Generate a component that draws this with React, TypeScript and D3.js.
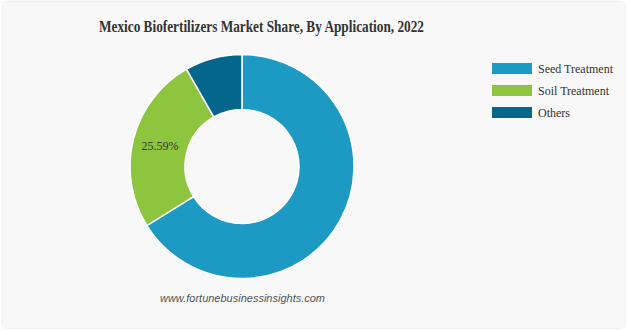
import React from "react";
import * as d3 from "d3";

const categories = ["Seed Treatment", "Soil Treatment", "Others"];
const values = [66.16, 25.59, 8.25];
const colors = ["#1c9ac3", "#8dc53f", "#05668c"];
const labeledIndex = [1];

const W = 629;
const H = 332;

export default function App() {
  const cx = 242;
  const cy = 166.5;
  const outerR = 112;
  const innerR = 57;

  const pie = d3
    .pie<number>()
    .sort(null)
    .value((d) => d)
    .startAngle(0)
    .endAngle(2 * Math.PI);
  const arcs = pie(values);
  const arcGen = d3.arc<d3.PieArcDatum<number>>().innerRadius(innerR).outerRadius(outerR);

  const legendX = 492;
  const legendY = 63;
  const legendStep = 22;

  return (
    <svg
      width={W}
      height={H}
      style={{ position: "absolute", left: 0, top: 0, display: "block" }}
    >
      <defs>
        <filter id="sh" x="-5%" y="-5%" width="110%" height="110%">
          <feDropShadow dx="0" dy="0" stdDeviation="1.2" floodColor="#000" floodOpacity="0.18" />
        </filter>
      </defs>
      <rect x={0} y={0} width={W} height={H} fill="#ffffff" />
      <rect x={3} y={2} width={621} height={326} rx={4} fill="#f8f8f8" filter="url(#sh)" />
      <text
        x={261.5}
        y={31.5}
        textAnchor="middle"
        fontFamily="'Liberation Serif', 'Times New Roman', serif"
        fontWeight="bold"
        fontSize={17}
        fill="#333"
        textLength={325}
        lengthAdjust="spacingAndGlyphs"
      >
        Mexico Biofertilizers Market Share, By Application, 2022
      </text>
      <g transform={`translate(${cx},${cy})`}>
        {arcs.map((a, i) => (
          <path key={i} d={arcGen(a) || ""} fill={colors[i]} stroke="#ffffff" strokeWidth={1.5} />
        ))}
        {arcs.map((a, i) => {
          if (!labeledIndex.includes(i)) return null;
          const [lx, ly] = arcGen.centroid(a);
          return (
            <text
              key={"l" + i}
              x={lx}
              y={ly}
              dy="0.35em"
              textAnchor="middle"
              fontFamily="'Liberation Serif', 'Times New Roman', serif"
              fontSize={12}
              fill="#333"
            >
              {values[i].toFixed(2)}%
            </text>
          );
        })}
      </g>
      {categories.map((c, i) => (
        <g key={c} transform={`translate(${legendX},${legendY + i * legendStep})`}>
          <rect x={0} y={0} width={40} height={11} fill={colors[i]} />
          <text
            x={46}
            y={9.5}
            fontFamily="'Liberation Serif', 'Times New Roman', serif"
            fontSize={12}
            fill="#333"
          >
            {c}
          </text>
        </g>
      ))}
      <text
        x={242.5}
        y={302}
        textAnchor="middle"
        fontFamily="'Liberation Sans', Arial, sans-serif"
        fontStyle="italic"
        fontSize={11}
        fill="#555"
      >
        www.fortunebusinessinsights.com
      </text>
    </svg>
  );
}
